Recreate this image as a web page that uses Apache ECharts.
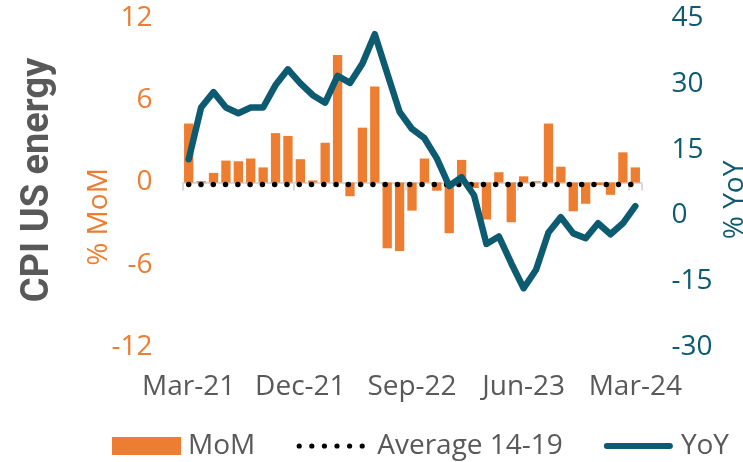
<!DOCTYPE html>
<html>
<head>
<meta charset="utf-8">
<script src="https://cdn.jsdelivr.net/npm/echarts@6/dist/echarts.min.js"></script>
<style>
html,body{margin:0;padding:0;background:#fff;}
#chart{width:743px;height:462px;}
</style>
</head>
<body>
<div id="chart"></div>
<script>
// ---- data ----
var categories = [
  'Mar-21','Apr-21','May-21','Jun-21','Jul-21','Aug-21','Sep-21','Oct-21','Nov-21','Dec-21',
  'Jan-22','Feb-22','Mar-22','Apr-22','May-22','Jun-22','Jul-22','Aug-22','Sep-22','Oct-22',
  'Nov-22','Dec-22','Jan-23','Feb-23','Mar-23','Apr-23','May-23','Jun-23','Jul-23','Aug-23',
  'Sep-23','Oct-23','Nov-23','Dec-23','Jan-24','Feb-24','Mar-24'
];
var momValues = [
  4.3, 0.1, 0.7, 1.6, 1.55, 1.75, 1.1, 3.6, 3.4, 1.7,
  0.15, 2.9, 9.3, -1.0, 4.0, 7.0, -4.8, -5.0, -2.05, 1.75,
  -0.6, -3.7, 1.65, -0.4, -2.7, 0.75, -2.9, 0.45, 0.1, 4.3,
  1.15, -2.1, -1.55, -0.2, -0.9, 2.2, 1.1
];
var yoyValues = [
  12.8, 24.6, 28.1, 24.6, 23.3, 24.6, 24.6, 29.7, 33.3, 30.1,
  27.4, 25.7, 31.8, 30.2, 34.6, 41.3, 32.4, 23.6, 19.7, 17.6,
  13.0, 6.7, 8.7, 4.6, -6.5, -4.8, -10.9, -16.6, -12.4, -3.9,
  -0.4, -4.1, -5.2, -1.8, -4.3, -1.8, 2.1
];
var averageMoM1419 = -0.15;
var momTicks = { min: -12, max: 12, interval: 6 };
var yoyTicks = { min: -30, max: 45, interval: 15 };

// ---- styles ----
var ORANGE = '#ED7D31';
var TEAL = '#0C5B70';
var GRAY = '#595959';
var FONT = '"Open Sans", "Noto Sans", sans-serif';

var avgData = categories.map(function () { return averageMoM1419; });

// legend icons (69 x 18 boxes)
function dotsIcon() {
  var p = 'path://M0,0M69,18';
  var r = 2.6;
  for (var i = 0; i < 6; i++) {
    var cx = 3 + i * 12.6;
    p += 'M' + (cx - r) + ',9a' + r + ',' + r + ' 0 1,0 ' + (2 * r) + ',0a' + r + ',' + r + ' 0 1,0 ' + (-2 * r) + ',0Z';
  }
  return p;
}
var lineIcon = 'path://M0,0M69,18M3,6h63a3,3 0 0 1 0,6h-63a3,3 0 0 1 0,-6Z';

var chart = echarts.init(document.getElementById('chart'), null, { renderer: 'canvas' });

chart.setOption({
  animation: false,
  backgroundColor: '#fff',
  textStyle: { fontFamily: FONT },
  grid: { left: 182.5, right: 101.5, top: 18, bottom: 115, containLabel: false },
  legend: {
    left: 107, top: 427,
    itemWidth: 69, itemHeight: 18, itemGap: 41,
    textStyle: { fontFamily: FONT, fontSize: 28, color: GRAY },
    data: [
      { name: 'MoM', icon: 'rect', textStyle: { padding: [0, 3, 0, 2] } },
      { name: 'Average 14-19', icon: dotsIcon(), textStyle: { padding: [0, 0, 0, 7] } },
      { name: 'YoY', icon: lineIcon, textStyle: { padding: [0, 0, 0, 3] } }
    ]
  },
  xAxis: [
    {
      type: 'category', data: categories, position: 'bottom',
      axisLine: { show: false, onZero: false },
      axisTick: { show: false },
      axisLabel: { interval: 8, margin: 26, fontSize: 28, color: GRAY, fontFamily: FONT },
      splitLine: { show: false }
    },
    {
      type: 'category', data: categories, position: 'bottom',
      axisLine: { show: true, onZero: true, onZeroAxisIndex: 0, lineStyle: { color: '#D9D9D9', width: 2 } },
      axisTick: { show: true, interval: 8, length: 8, lineStyle: { color: '#D9D9D9', width: 2 } },
      axisLabel: { show: false },
      splitLine: { show: false }
    }
  ],
  yAxis: [
    {
      type: 'value', min: momTicks.min, max: momTicks.max, interval: momTicks.interval,
      position: 'left',
      axisLine: { show: false }, axisTick: { show: false }, splitLine: { show: false },
      axisLabel: { fontSize: 28, color: ORANGE, margin: 30, fontFamily: FONT }
    },
    {
      type: 'value', min: yoyTicks.min, max: yoyTicks.max, interval: yoyTicks.interval,
      position: 'right',
      axisLine: { show: false }, axisTick: { show: false }, splitLine: { show: false },
      axisLabel: { fontSize: 28, color: TEAL, margin: 30, fontFamily: FONT }
    }
  ],
  series: [
    {
      name: 'MoM', type: 'bar', data: momValues, xAxisIndex: 0, yAxisIndex: 0,
      barCategoryGap: '25%',
      itemStyle: { color: ORANGE },
      z: 2
    },
    {
      name: 'Average 14-19', type: 'line', data: avgData, xAxisIndex: 0, yAxisIndex: 0,
      symbol: 'none',
      lineStyle: { color: '#000', width: 5.5, type: [0.01, 12.27], cap: 'round' },
      itemStyle: { color: '#000' },
      z: 3
    },
    {
      name: 'YoY', type: 'line', data: yoyValues, xAxisIndex: 0, yAxisIndex: 1,
      symbol: 'none',
      lineStyle: { color: TEAL, width: 6.5, join: 'round', cap: 'round' },
      itemStyle: { color: TEAL },
      z: 4
    }
  ],
  graphic: [
    {
      type: 'text', x: 38, y: 180, rotation: Math.PI / 2,
      style: { text: 'CPI US energy', fill: GRAY, font: 'bold 38px Roboto, "Open Sans", sans-serif', align: 'center', verticalAlign: 'middle' }
    },
    {
      type: 'text', x: 99, y: 217, rotation: Math.PI / 2,
      style: { text: '% MoM', fill: ORANGE, font: '28px "Open Sans", sans-serif', align: 'center', verticalAlign: 'middle' }
    },
    {
      type: 'text', x: 735, y: 200, rotation: Math.PI / 2,
      style: { text: '% YoY', fill: TEAL, font: '28px "Open Sans", sans-serif', align: 'center', verticalAlign: 'middle' }
    }
  ]
});
</script>
</body>
</html>
